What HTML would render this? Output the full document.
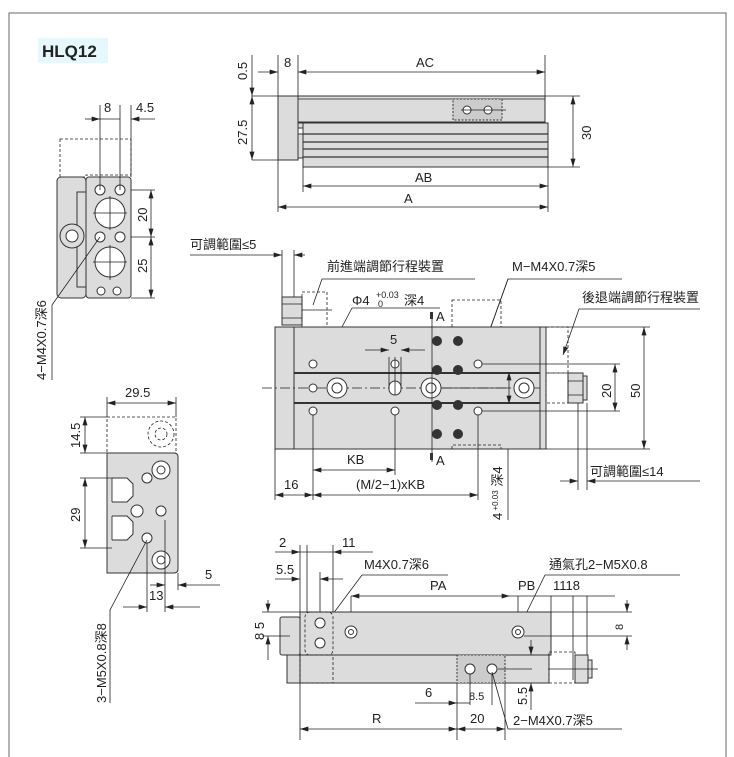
<!DOCTYPE html>
<html><head><meta charset="utf-8"><style>
html,body{margin:0;padding:0;background:#fff}
svg{display:block}
text{font-family:"Liberation Sans","Noto Sans CJK TC",sans-serif;font-size:13px;fill:#222}
.l{stroke:#222;stroke-width:.8;fill:none}
.d{stroke:#222;stroke-width:.8;fill:none;stroke-dasharray:3 2}
.b{fill:#dcdcdc;stroke:#333;stroke-width:1}
.c{fill:#fff;stroke:#333;stroke-width:1}
.k{fill:#333}
</style></head><body>
<svg width="734" height="757" viewBox="0 0 734 757">
<defs>
<marker id="a" viewBox="0 0 10 6" refX="10" refY="3" markerWidth="9" markerHeight="5" orient="auto-start-reverse" markerUnits="userSpaceOnUse"><path d="M0,0L10,3L0,6z" fill="#222"/></marker>
</defs>
<path d="M9,757V13H726V757" fill="none" stroke="#666" stroke-width="1"/>
<rect x="38" y="38" width="70" height="25" fill="#e6f8fb"/>
<text x="42" y="57" style="font-size:17px;font-weight:bold">HLQ12</text>

<!-- TOP SIDE VIEW -->
<rect x="278" y="96" width="20" height="64" class="b"/>
<rect x="298" y="96" width="247" height="26" class="b"/>
<line x1="298" y1="99" x2="545" y2="99" class="l"/>
<rect x="453" y="99" width="49" height="21" fill="#ccc" stroke="#333" stroke-dasharray="2 1.5"/>
<circle cx="467" cy="110" r="4" class="c"/><circle cx="488" cy="110" r="4" class="c"/>
<line x1="461" y1="110" x2="506" y2="110" class="l"/>
<rect x="303" y="123" width="245" height="44" class="b"/>
<rect x="298" y="123" width="5" height="5" class="b"/><rect x="298" y="134" width="5" height="24" class="b"/>
<path d="M303,134H548M303,142H548M303,149H548M303,157H548" stroke="#333" stroke-width="1.3"/>
<path d="M278,55V96M298,55V96M545,55V96M252,96H278M252,160H278M545,96H580M548,167H580M303,167V192M548,167V212M278,160V212" class="l"/>
<line x1="258" y1="72" x2="278" y2="72" class="l" marker-end="url(#a)"/>
<line x1="298" y1="72" x2="545" y2="72" class="l" marker-start="url(#a)" marker-end="url(#a)"/>
<line x1="252" y1="55" x2="252" y2="96" class="l" marker-end="url(#a)"/>
<line x1="252" y1="96" x2="252" y2="160" class="l" marker-start="url(#a)" marker-end="url(#a)"/>
<line x1="573" y1="96" x2="573" y2="167" class="l" marker-start="url(#a)" marker-end="url(#a)"/>
<line x1="303" y1="186" x2="548" y2="186" class="l" marker-start="url(#a)" marker-end="url(#a)"/>
<line x1="278" y1="207" x2="548" y2="207" class="l" marker-start="url(#a)" marker-end="url(#a)"/>
<text x="284" y="67">8</text><text x="416" y="67">AC</text>
<text x="415" y="182">AB</text><text x="404" y="203">A</text>
<text transform="translate(247,80) rotate(-90)">0.5</text>
<text transform="translate(247,145) rotate(-90)">27.5</text>
<text transform="translate(591,140) rotate(-90)">30</text>

<!-- LEFT TOP END VIEW -->
<path d="M60,139H131V175H86V177H60Z" class="d"/>
<rect x="57" y="177" width="29" height="121" rx="4" class="b"/>
<rect x="86" y="177" width="45" height="121" rx="3" class="b"/>
<rect x="77" y="192" width="9" height="95" class="b"/>
<circle cx="72" cy="236" r="12" class="b"/><circle cx="72" cy="236" r="6" class="c"/>
<circle cx="100" cy="190" r="5" class="c"/><circle cx="120" cy="190" r="5" class="c"/>
<circle cx="110" cy="213" r="15" class="c" stroke-width="1.5"/>
<circle cx="100" cy="237" r="5" class="c"/><circle cx="120" cy="237" r="5" class="c"/>
<circle cx="110" cy="262" r="15" class="c" stroke-width="1.5"/>
<circle cx="101" cy="291" r="4" class="c"/><circle cx="117" cy="291" r="4" class="c"/>
<path d="M110,196V230M93,213H127M110,245V280M93,262H127" class="l"/>
<path d="M100,105V190M120,105V190M131,105V177M131,190H155M131,237H155M131,298H155" class="l"/>
<line x1="85" y1="119" x2="100" y2="119" class="l" marker-end="url(#a)"/>
<line x1="100" y1="119" x2="120" y2="119" class="l"/>
<line x1="155" y1="119" x2="131" y2="119" class="l" marker-end="url(#a)"/>
<line x1="151" y1="190" x2="151" y2="237" class="l" marker-start="url(#a)" marker-end="url(#a)"/>
<line x1="151" y1="237" x2="151" y2="298" class="l" marker-start="url(#a)" marker-end="url(#a)"/>
<text x="104" y="112">8</text><text x="136" y="112">4.5</text>
<text transform="translate(147,222) rotate(-90)">20</text>
<text transform="translate(147,273) rotate(-90)">25</text>
<path d="M100,237L52,305V380" class="l"/>
<text transform="translate(46,380) rotate(-90)">4−M4X0.7深6</text>

<!-- MIDDLE TOP VIEW -->
<text x="190" y="249">可調範圍≤5</text>
<line x1="190" y1="255" x2="282" y2="255" class="l" marker-end="url(#a)"/>
<line x1="305" y1="255" x2="294" y2="255" class="l" marker-end="url(#a)"/>
<path d="M282,250V300M294,250V300" class="l"/>
<rect x="282" y="297" width="20" height="28" class="b"/>
<path d="M282,304H302M282,318H302" class="l"/>
<rect x="302" y="292" width="25" height="35" class="d"/>
<line x1="302" y1="310" x2="332" y2="310" class="l"/>
<text x="327" y="271">前進端調節行程裝置</text>
<path d="M475,279H322L313,305" class="l"/>
<text x="512" y="271">M−M4X0.7深5</text>
<path d="M622,279H508L479,360" class="l"/>
<path d="M508,279L470,385" class="l" marker-end="url(#a)"/>
<text x="352" y="305">Φ4</text><text x="376" y="298" style="font-size:9px">+0.03</text><text x="378" y="307" style="font-size:9px">0</text><text x="404" y="305">深4</text>
<path d="M352,308H440M352,308L298,410" class="l"/>
<text x="582" y="302">後退端調節行程裝置</text>
<path d="M700,309H579L563,355" class="l" marker-end="url(#a)"/>
<rect x="452" y="300" width="49" height="27" class="d"/>
<rect x="546" y="327" width="22" height="46" class="d"/>
<rect x="275" y="327" width="271" height="122" class="b"/>
<rect x="275" y="327" width="19" height="122" class="b"/>
<rect x="540" y="327" width="6" height="122" class="b"/>
<path d="M294,373H540M294,403H540" stroke="#333" stroke-width="2"/>
<path d="M452,449V445H501V449" class="d"/>
<line x1="262" y1="388" x2="540" y2="388" class="l" stroke-dasharray="10 3 2 3"/>
<g class="c">
<circle cx="313" cy="364" r="4"/><circle cx="313" cy="411" r="4"/><circle cx="313" cy="388" r="4"/>
<circle cx="395" cy="364" r="4"/><circle cx="395" cy="411" r="4"/>
<circle cx="478" cy="364" r="4"/><circle cx="478" cy="411" r="4"/>
<circle cx="337" cy="388" r="10"/><circle cx="337" cy="388" r="5"/>
<circle cx="431" cy="388" r="10"/><circle cx="431" cy="388" r="5"/>
<circle cx="524" cy="388" r="10"/><circle cx="524" cy="388" r="5"/>
<rect x="389" y="381" width="12" height="14" rx="6"/>
</g>
<path d="M395,357V395M389,357V388M401,357V388M441,388H509" class="l"/>
<g class="k">
<circle cx="437" cy="341" r="5"/><circle cx="458" cy="341" r="5"/>
<circle cx="437" cy="370" r="5"/><circle cx="458" cy="370" r="5"/>
<circle cx="437" cy="405" r="5"/><circle cx="458" cy="405" r="5"/>
<circle cx="437" cy="434" r="5"/><circle cx="458" cy="434" r="5"/>
</g>
<line x1="432" y1="315" x2="432" y2="462" class="l"/>
<rect x="430" y="312" width="3" height="7" class="k"/><rect x="430" y="453" width="3" height="7" class="k"/>
<text x="436" y="321">A</text><text x="436" y="465">A</text>
<line x1="365" y1="350" x2="389" y2="350" class="l" marker-end="url(#a)"/>
<line x1="425" y1="350" x2="401" y2="350" class="l" marker-end="url(#a)"/>
<text x="390" y="344">5</text>
<rect x="568" y="373" width="15" height="30" class="b"/><rect x="583" y="376" width="4" height="24" class="b"/>
<path d="M568,381H583M568,395H583" class="l"/>
<rect x="546" y="373" width="22" height="30" class="d"/>
<path d="M482,364H620M482,411H620M546,327H650M546,449H650" class="l"/>
<line x1="615" y1="364" x2="615" y2="411" class="l" marker-start="url(#a)" marker-end="url(#a)"/>
<line x1="644" y1="327" x2="644" y2="449" class="l" marker-start="url(#a)" marker-end="url(#a)"/>
<line x1="509" y1="372" x2="509" y2="404" class="l" marker-start="url(#a)" marker-end="url(#a)"/>
<text transform="translate(611,398) rotate(-90)">20</text>
<text transform="translate(640,398) rotate(-90)">50</text>
<path d="M578,403V490M587,403V490" class="l"/>
<line x1="560" y1="481" x2="578" y2="481" class="l" marker-end="url(#a)"/>
<line x1="700" y1="481" x2="587" y2="481" class="l" marker-end="url(#a)"/>
<text x="590" y="476">可調範圍≤14</text>
<path d="M275,449V500M313,415V500M395,415V475M478,415V500M508,449V520" class="l"/>
<line x1="313" y1="470" x2="395" y2="470" class="l" marker-start="url(#a)" marker-end="url(#a)"/>
<text x="347" y="464">KB</text>
<line x1="275" y1="495" x2="313" y2="495" class="l" marker-start="url(#a)" marker-end="url(#a)"/>
<line x1="313" y1="495" x2="478" y2="495" class="l" marker-start="url(#a)" marker-end="url(#a)"/>
<text x="284" y="489">16</text><text x="356" y="489">(M/2−1)xKB</text>
<text transform="translate(502,520) rotate(-90)">4<tspan style="font-size:8px" dy="-4"> +0.03</tspan><tspan style="font-size:13px" dy="4"> 深4</tspan></text>

<!-- BOTTOM LEFT VIEW -->
<rect x="107" y="417" width="69" height="36" class="d"/>
<circle cx="161" cy="434" r="13" class="d"/><circle cx="161" cy="434" r="6" class="d"/>
<path d="M107,453H174Q178,453 178,457V569Q178,573 174,573H107Z" class="b"/>
<path d="M112,478H127L133,484V496L127,502H112M112,516H127L133,522V534L127,540H112" class="c"/>
<path d="M112,478V502M112,516V540" class="l"/>
<g class="c">
<circle cx="161" cy="470" r="9"/><circle cx="161" cy="470" r="4"/>
<circle cx="161" cy="560" r="9"/><circle cx="161" cy="560" r="4"/>
<circle cx="147" cy="478" r="5"/><circle cx="137" cy="511" r="6"/>
<circle cx="161" cy="511" r="5"/><circle cx="147" cy="538" r="5"/>
</g>
<path d="M107,397V417M176,397V417M80,417H107M80,453H107M80,478H112M80,548H112M147,543V612M165,520V612M178,573V590" class="l"/>
<line x1="107" y1="403" x2="176" y2="403" class="l" marker-start="url(#a)" marker-end="url(#a)"/>
<text x="125" y="397">29.5</text>
<line x1="85" y1="417" x2="85" y2="453" class="l" marker-start="url(#a)" marker-end="url(#a)"/>
<text transform="translate(80,448) rotate(-90)">14.5</text>
<line x1="85" y1="478" x2="85" y2="548" class="l" marker-start="url(#a)" marker-end="url(#a)"/>
<text transform="translate(80,522) rotate(-90)">29</text>
<line x1="150" y1="585" x2="165" y2="585" class="l" marker-end="url(#a)"/>
<line x1="220" y1="585" x2="178" y2="585" class="l" marker-end="url(#a)"/>
<text x="205" y="579">5</text>
<line x1="123" y1="607" x2="147" y2="607" class="l" marker-end="url(#a)"/>
<line x1="200" y1="607" x2="165" y2="607" class="l" marker-end="url(#a)"/>
<text x="149" y="600">13</text>
<path d="M147,540L110,610V703" class="l"/>
<text transform="translate(106,703) rotate(-90)">3−M5X0.8深8</text>

<!-- BOTTOM RIGHT VIEW -->
<path d="M300,545V740M307,545V612M333,545V612M320,572V612" class="l"/>
<line x1="275" y1="552" x2="300" y2="552" class="l" marker-end="url(#a)"/>
<line x1="373" y1="552" x2="333" y2="552" class="l" marker-end="url(#a)"/>
<line x1="300" y1="552" x2="333" y2="552" class="l"/>
<text x="279" y="547">2</text><text x="342" y="547">11</text>
<line x1="275" y1="579" x2="300" y2="579" class="l" marker-end="url(#a)"/>
<line x1="343" y1="579" x2="320" y2="579" class="l" marker-end="url(#a)"/>
<text x="276" y="574">5.5</text>
<text x="364" y="569">M4X0.7深6</text>
<path d="M448,575H362L306,650" class="l"/>
<text x="549" y="569">通氣孔2−M5X0.8</text>
<path d="M680,575H545L519,628" class="l" marker-end="url(#a)"/>
<line x1="351" y1="596" x2="510" y2="596" class="l" marker-start="url(#a)" marker-end="url(#a)"/>
<line x1="615" y1="596" x2="510" y2="596" class="l"/>
<text x="430" y="590">PA</text><text x="518" y="590">PB</text><text x="553" y="590">1118</text>
<path d="M351,596V632M518,596V632M551,596V612M573,596V680M587,596V660" class="l"/>
<rect x="280" y="617" width="20" height="38" rx="2" class="b"/>
<rect x="300" y="612" width="251" height="43" class="b"/>
<rect x="305" y="612" width="28" height="43" rx="5" class="d"/>
<rect x="287" y="655" width="262" height="28" class="b"/>
<rect x="287" y="655" width="13" height="28" class="b"/>
<rect x="300" y="655" width="33" height="28" class="d"/>
<rect x="457" y="655" width="48" height="28" fill="#ccc" stroke="#333" stroke-dasharray="2 1.5"/>
<g class="c">
<circle cx="320" cy="623" r="5"/><circle cx="320" cy="643" r="5"/>
<circle cx="351" cy="632" r="6"/><circle cx="351" cy="632" r="2.5"/>
<circle cx="518" cy="632" r="6"/><circle cx="518" cy="632" r="2.5"/>
<circle cx="470" cy="669" r="5"/><circle cx="492" cy="669" r="5"/>
</g>
<rect x="549" y="652" width="26" height="31" class="d"/>
<rect x="575" y="655" width="13" height="28" class="b"/><rect x="588" y="660" width="4" height="18" class="b"/>
<path d="M548,669H598M498,669H532" class="l"/>
<path d="M262,612H300M262,636H290M551,612H632M524,636H632" class="l"/>
<line x1="268" y1="600" x2="268" y2="612" class="l" marker-end="url(#a)"/>
<line x1="268" y1="660" x2="268" y2="636" class="l" marker-end="url(#a)"/>
<text transform="translate(264,640) rotate(-90)">8 5</text>
<line x1="627" y1="600" x2="627" y2="612" class="l" marker-end="url(#a)"/>
<line x1="627" y1="650" x2="627" y2="636" class="l" marker-end="url(#a)"/>
<text transform="translate(623,630) rotate(-90)" style="font-size:11px">8</text>
<path d="M457,683V740M505,683V740M470,674V705M492,674V705" class="l"/>
<line x1="415" y1="703" x2="457" y2="703" class="l" marker-end="url(#a)"/>
<line x1="457" y1="703" x2="470" y2="703" class="l"/>
<text x="425" y="697">6</text>
<text x="469" y="700" style="font-size:11px">8.5</text>
<line x1="531" y1="640" x2="531" y2="655" class="l" marker-end="url(#a)"/>
<line x1="531" y1="710" x2="531" y2="683" class="l" marker-end="url(#a)"/>
<text transform="translate(527,705) rotate(-90)">5.5</text>
<line x1="300" y1="729" x2="457" y2="729" class="l" marker-start="url(#a)" marker-end="url(#a)"/>
<line x1="457" y1="729" x2="505" y2="729" class="l" marker-start="url(#a)" marker-end="url(#a)"/>
<text x="372" y="723">R</text><text x="470" y="723">20</text>
<text x="513" y="725">2−M4X0.7深5</text>
<path d="M622,729H508L492,672" class="l"/>
</svg>
</body></html>
